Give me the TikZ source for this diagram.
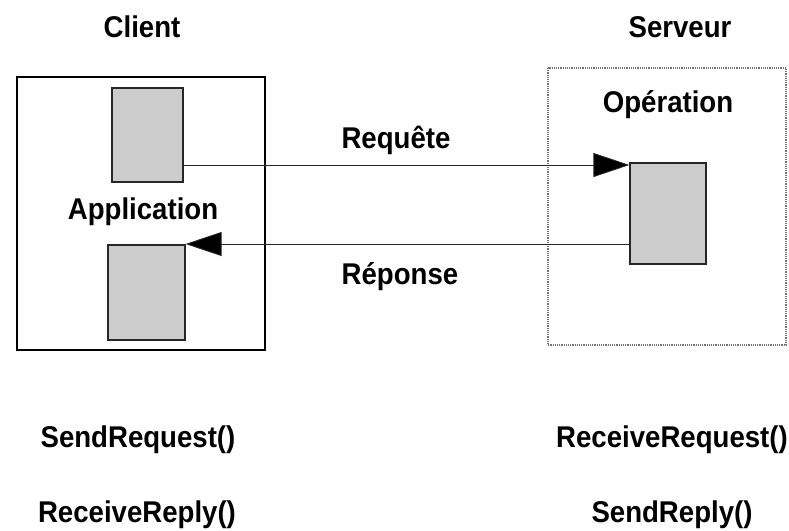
\documentclass[tikz,border=0pt]{standalone}
\usepackage{fontspec}
\setmainfont{Liberation Sans}
\usetikzlibrary{arrows.meta}
\begin{document}
\begin{tikzpicture}[x=1pt,y=-1pt,
  lbl/.style={font=\bfseries\fontsize{30}{34}\selectfont, inner sep=0pt, xscale=0.92},
  frame/.style={draw=black, line width=1.8pt},
  sframe/.style={draw=gray!90!black, line width=2pt, dash pattern=on 1.2pt off 1pt},
  cell/.style={draw=black!85, fill=gray!40, line width=1.2pt},
  msg/.style={draw=black!85, line width=0.9pt, -{Triangle[length=36pt,width=24pt,fill=black]}}]
\useasboundingbox (0,0) rectangle (789,530);
% frames
\draw[frame] (17,77) rectangle (265,350);
\draw[sframe] (548,68) rectangle (786,345);
% cells
\node[cell, minimum width=71pt, minimum height=94pt, inner sep=0pt] (c1) at (147.5,135) {};
\node[cell, minimum width=77pt, minimum height=95pt, inner sep=0pt] (c2) at (146.5,292.5) {};
\node[cell, minimum width=76pt, minimum height=101pt, inner sep=0pt] (s1) at (668,213.5) {};
% labels
\node[lbl] (client) at (142,27) {Client};
\node[lbl] (serveur) at (680,27) {Serveur};
\node[lbl] (app) at (143,212) {Application};
\node[lbl] (op) at (668,105) {Opération};
\node[lbl] (req) at (396,140) {Requête};
\node[lbl] (rep) at (400,277) {Réponse};
\node[lbl] (sreq) at (138,440) {SendRequest()};
\node[lbl] (rrep) at (137,515) {ReceiveReply()};
\node[lbl] (rreq) at (672,440) {ReceiveRequest()};
\node[lbl] (srep) at (672,515) {SendReply()};
% messages
\coordinate (a1) at (c1.east |- 0,165);
\coordinate (a2) at (s1.west |- 0,165);
\draw[msg] (a1) -- (a2);
\coordinate (b1) at (s1.west |- 0,244);
\coordinate (b2) at (c2.east |- 0,244);
\draw[msg] (b1) -- (b2);
\end{tikzpicture}
\end{document}
